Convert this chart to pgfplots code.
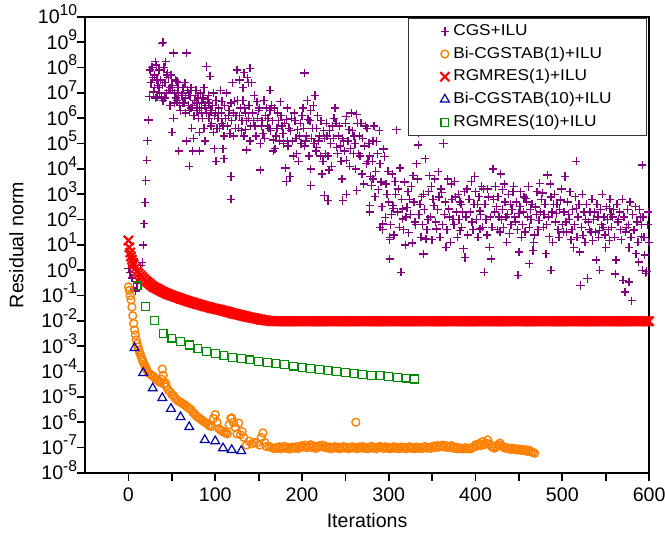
\documentclass[border=0pt]{standalone}
\usepackage{fontspec}
\setmainfont{Liberation Sans}
\usepackage{graphicx}
\usepackage{pgfplots}
\pgfplotsset{compat=1.18}

\definecolor{cgs}{RGB}{128,0,128}
\definecolor{bic}{RGB}{255,128,0}
\definecolor{rgone}{RGB}{255,0,0}
\definecolor{bicten}{RGB}{0,0,160}
\definecolor{rgten}{RGB}{0,140,0}

\newcommand\pw[1]{10\raisebox{0.85ex}{\fontsize{8}{8}\selectfont#1}}
\newcommand\legtxt[1]{\scalebox{1.1}[1]{#1}}

\begin{document}
\begin{tikzpicture}
\useasboundingbox (-43.4pt,-32.1pt) rectangle (295.9pt,241.3pt);
\begin{axis}[
  at={(0,0)}, anchor=south west,
  scale only axis, width=287.8pt, height=232.7pt,
  ymode=log, log basis y=10,
  xmin=-50, xmax=600, ymin=1e-8, ymax=1e10,
  xtick={0,100,...,600},
  extra x ticks={50,150,...,550}, extra x tick labels={},
  ytick={1e-8,1e-7,1e-6,1e-5,1e-4,1e-3,1e-2,1e-1,1,1e1,1e2,1e3,1e4,1e5,1e6,1e7,1e8,1e9,1e10},
  yticklabels={\pw{-8},\pw{-7},\pw{-6},\pw{-5},\pw{-4},\pw{-3},\pw{-2},\pw{-1},\pw{0},\pw{1},\pw{2},\pw{3},\pw{4},\pw{5},\pw{6},\pw{7},\pw{8},\pw{9},\pw{10}},
  yticklabel style={anchor=base east, xshift=3.5pt, yshift=-3.6pt},
  /pgf/number format/assume math mode=true,
  tick align=outside, tick pos=left,
  major tick length=4pt, minor tick length=2.5pt,
  every tick/.style={black, line width=0.9pt},
  axis line style={line width=0.9pt},
  tick label style={font=\fontsize{10}{12}\selectfont},
  label style={font=\fontsize{10}{12}\selectfont},
  xlabel={Iterations}, ylabel={Residual norm},
  xlabel style={at={(axis description cs:0.5,-0.105)}, anchor=center},
  ylabel style={at={(axis description cs:-0.122,0.5)}, anchor=center},
  legend cell align=left,
  legend style={at={(0.997,0.998)}, anchor=north east,
    font=\fontsize{8}{9.6}\selectfont, draw=black!80, line width=0.5pt,
    row sep=0.3pt, inner xsep=16pt, inner ysep=1.2pt},
]
% CGS+ILU
\addplot[only marks, mark=+, color=cgs, mark size=2.1pt, mark options={draw=cgs, line width=0.7pt}] coordinates {
(0,1.2)(2,0.8)(4,0.5)(6,0.2)(8,0.15)(10,0.3)(12,0.6)(14,1.5)(16,2)(17,10)(18,68)(19,470)(20,3.5e3)(21,2.2e4)(22,1.3e5)(23,8.5e5)
(39,9.1e8)(40,1e9)(52,3.7e8)(67,3.7e8)(31,1.7e8)(43,1.7e8)(25,7.9e7)(35,7.9e7)(46,4e7)(56,2.8e7)(90,1.1e8)(94,4.5e7)(125,7.9e7)
(29,1.1e7)(24,7.1e6)(33,7.1e6)(40,5e6)(48,1.6e7)(58,7.9e6)(63,1.6e7)(68,1.26e7)(78,1.26e7)(87,1.6e7)(91,5.6e6)(108,4.6e6)(122,4.6e6)
(132,5e6)(69,3.2e6)(60,2e6)(75,1.26e6)(82,2.5e6)(93,1e6)(108,6.3e5)(52,1e6)(73,4e5)(82,2.8e5)(98,2.8e5)(110,2e5)(121,2e5)(133,2e5)
(50,2.8e5)(75,1.6e5)(88,1.26e5)(67,1.26e5)(99,6.3e4)(109,6.3e4)(58,5e4)(74,5e4)(82,5e4)(101,2e4)(110,2.5e4)(70,1.26e4)(118,5e3)(118,630)
(27,1e8)(30,5e7)(32,1.26e8)(34,2e7)(36,1e7)(37,3.2e7)(42,2.5e7)(44,1e7)(45,6.3e7)(47,1.26e7)(50,2e7)(53,1e7)(55,6.3e6)(57,1.6e7)
(61,7.9e6)(64,4e6)(66,6.3e6)(71,7.9e6)(72,2.5e6)(76,5e6)(79,2e6)(80,6.3e6)(84,4e6)(85,1e6)(89,2.5e6)(95,2e6)(96,6.3e5)(100,1.6e6)
(103,1e6)(105,4e5)(112,1e6)(114,5e5)(116,2e6)(119,7.9e5)(124,1.26e6)(127,4e5)(129,2.5e6)(131,7.9e5)(128,3.2e7)(138,2.5e7)(137,4e7)
(26,2.5e7)(28,4e7)(30,1.6e7)(31,6.3e6)(33,3.2e7)(35,1.6e7)(38,6.3e6)(39,2e7)(41,1e8)(42,6.3e6)(44,5e7)(46,1.26e7)(48,3.2e6)(49,5e7)
(51,1.26e7)(53,4e6)(54,3.2e7)(56,5e6)(58,2.5e7)(59,3.2e6)(62,1e7)(63,4e6)(65,2.5e7)(66,1.6e6)
(69,1e7)(70,2e6)(72,1.6e7)(74,3.2e6)(76,1.26e6)(77,7.9e6)(79,4e6)(81,1e6)(83,1e7)(84,1.6e6)(86,6.3e6)(87,4e5)(88,3.2e6)(90,1.6e6)
(92,7.9e6)(93,4e6)(95,5e5)(97,3.2e6)(98,1e7)(99,1.26e6)
(101,5e6)(102,4e5)(104,2.5e6)(106,1.26e7)(107,1.6e6)(109,5e5)(111,3.2e6)(113,1e7)(115,1.26e6)(117,2.5e5)(118,4e6)(120,2.5e7)
(121,1.6e6)(123,4e5)(126,5e6)(128,1.26e6)(130,3.2e5)(132,1.6e7)(134,2.5e6)(136,7.9e5)(139,3.2e6)(141,5e5)(143,1.6e6)
(140,9.3e7)(203,6e7)(133,6.3e7)(142,2.5e7)(163,1.26e7)(215,7.9e6)(206,5e6)(175,4.5e6)(148,4.5e6)(238,2.5e6)(159,2.5e6)(210,2e6)
(251,1.2e6)(263,1.4e6)(191,1.6e6)(161,1e6)(135,1.6e6)(173,7.9e5)(182,8.9e5)(207,8.9e5)(239,6.3e5)(268,6.3e5)(153,5e5)(146,5e5)
(135,3.5e5)(195,3.5e5)(254,3.5e5)(229,2e5)(183,1.26e5)(167,1.4e5)(152,1e5)(140,1.26e5)(261,1e5)(217,7.1e4)(204,1.26e5)(240,7.1e4)
(282,1.26e5)(136,5.6e4)(167,5e4)(190,3.2e4)(196,2e4)(221,3.2e4)(251,2.2e4)(274,1.6e4)(152,8.9e3)(181,1.1e4)(210,1e4)(231,8.9e3)
(186,5e3)(223,6.3e3)(246,4e3)(269,6.3e3)(182,3.2e3)(210,2.2e3)(226,890)(251,1e3)(263,1.4e3)(280,2.2e3)(230,560)(247,560)(278,200)(290,50)
(138,1e6)(144,7.9e5)(150,2e6)(155,2.5e5)(158,1.26e6)(162,4e5)(165,3.2e6)(170,2e5)(172,1.6e6)(177,5e5)(179,1e5)(185,4e5)(188,1e6)
(193,1.6e5)(198,6.3e5)(201,2.5e6)(203,7.9e4)(212,4e5)(214,1e5)(218,1.26e6)(220,2e5)(225,3.2e5)(227,4e4)(233,1e5)(235,5e5)(242,2e5)
(244,7.9e4)(248,1.26e5)(256,6.3e4)(258,3.2e5)(265,4e4)(266,2e5)(272,7.9e4)(275,4e5)(278,3.2e4)
(145,7.9e6)(147,2e5)(149,1e6)(151,2.5e6)(154,7.9e5)(156,5e6)(157,1.6e5)(160,5e5)(163,2e6)(164,3.2e5)(166,7.9e5)(168,2.5e6)
(169,6.3e4)(171,4e5)(174,1.26e5)(176,1.26e6)(178,2.5e5)(180,6.3e5)(183,2.5e6)(184,7.9e4)(187,3.2e5)(189,1.26e5)(192,7.9e5)
(194,4e4)(197,2e5)(199,1e5)(200,1.26e6)
(202,4e5)(205,2e5)(208,3.2e4)(209,7.9e5)(211,1.6e5)(213,3.2e6)(216,5e4)(217,4e5)(219,1.26e5)(222,7.9e5)(224,2e4)(226,1.6e5)
(228,6.3e5)(230,3.2e4)(232,3.2e5)(234,1.26e4)(236,1.6e5)(237,1e6)(241,4e4)(243,5e5)(245,2e4)(247,1.6e5)(249,5e4)(250,6.3e5)
(253,1.26e5)(255,1.26e4)(257,1.6e6)(259,4e4)(260,2e5)(262,1e4)(264,6.3e5)(267,3.2e4)(270,1.6e5)(271,2.5e3)(273,5e5)(276,2e4)
(277,1e5)(279,5e3)
(281,2e4)(283,5e5)(284,800)(285,7.9e3)(287,4e4)(288,1.5e3)(289,3.2e5)(291,3e3)(292,320)(294,6e4)(296,120)(299,8e3)(300,500)
(293,40)(301,16)(305,280)
(309,3.5e5)(334,2.6e5)(363,1e5)(286,1.2e5)(334,8.9e4)(295,3.1e4)(332,1.6e4)(290,1.6e4)(313,1.1e4)(357,7.8e3)(347,5.4e3)(399,5e3)
(420,1e4)(282,4e3)(297,2.5e3)(328,5.4e3)(372,2.5e3)(409,1.6e3)(311,1.6e3)(340,1e3)(361,1.2e3)(393,630)(324,630)(352,350)(369,260)
(305,350)(316,260)(382,500)(405,220)(293,66)(316,105)(355,43)(382,36)(405,43)(428,32)(301,20)(343,17)(366,8.1)(386,7.1)(416,8.1)
(436,12.6)(301,2.8)(340,4.4)(388,3.2)(418,2.8)(314,0.83)(410,0.83)(278,350)
(298,1e3)(303,160)(307,3.2e3)(320,126)(326,2e3)(330,79)(336,400)(345,100)(349,2e3)(358,790)(364,160)(374,100)(377,790)(385,200)
(390,1.6e3)(396,79)(402,400)(412,100)(415,790)(424,320)(430,100)(433,2.5e3)
(302,63)(304,6.3e3)(306,25)(308,1e3)(310,200)(312,50)(315,630)(317,40)(318,3e3)(319,10)(321,300)(322,1.26e3)(323,30)(325,160)
(327,12)(329,500)(331,63)(333,4e3)(335,160)(337,20)(338,800)(339,63)(341,250)(342,2.5e4)(344,40)(346,1.26e3)(348,126)(350,16)
(351,630)(353,4e3)(354,79)(356,250)(359,20)(360,1.6e3)(362,63)(365,500)(367,40)(368,4e3)(370,126)(371,12.6)(373,630)(375,63)
(376,3.2e3)(378,200)(379,20)(380,1e3)(381,100)(383,400)(384,50)(387,1.26e3)(389,126)(391,25)(392,630)(394,200)(395,3.2e3)(397,40)
(398,400)(400,1.26e3)(401,100)(403,20)(404,800)(406,160)(407,2e3)(408,50)(411,400)(413,25)(414,1.6e3)(417,126)(419,50)(421,630)
(422,200)(423,2e3)(425,40)(426,800)(427,126)(429,6.3e3)(431,250)(432,50)(434,500)(437,160)(438,1e3)(441,63)(442,250)(444,2e3)
(445,126)(447,500)(448,40)
(516,2e4)(592,1.4e4)(483,5.8e3)(474,2.7e3)(431,1.5e3)(443,1.26e3)(458,690)(477,1.1e3)(487,790)(498,590)(516,275)(554,275)(558,126)
(469,316)(450,174)(435,126)(493,174)(504,79)(473,93)(462,50)(439,28)(524,24)(543,38)(574,50)(582,38)(591,21)(485,21)(501,32)(535,15)
(554,15)(450,5.2)(466,6)(481,4.5)(520,5.2)(539,2.5)(562,2.5)(585,4.5)(597,0.9)(462,1.8)(487,1.0)(543,1.0)(561,0.72)(570,0.4)(577,0.34)
(521,0.25)(529,0.47)(449,0.63)(572,0.14)(580,0.063)(592,1.0)(588,2.1)(596,0.76)
(440,400)(446,79)(453,20)(456,790)(463,250)(468,25)(479,160)(482,63)(490,400)(495,40)(507,160)(510,16)(513,7.9)(527,100)(531,40)
(537,200)(547,50)(550,7.9)(565,100)(568,16)(577,7.9)(590,126)(595,4)(600,12.6)
(451,320)(452,1.26e3)(454,63)(455,200)(457,32)(459,500)(460,126)(461,2e3)(464,100)(465,400)(467,12.6)(470,160)(471,1.26e3)(472,40)
(475,200)(476,630)(478,50)(480,400)(484,126)(486,2.5e3)(488,200)(489,12.6)(491,1e3)(492,79)(494,400)(496,20)(497,250)(499,1.6e3)
(500,63)(502,200)(503,5e3)(505,32)(506,500)(508,100)(509,1.26e3)(511,40)(512,250)(514,63)(515,800)(517,20)(518,126)(519,400)
(522,50)(523,1e3)(525,200)(526,12.6)(528,400)(530,79)(532,200)(533,32)(534,630)(536,100)(538,32)(540,400)(541,126)(542,20)
(544,250)(545,63)(546,1e3)(548,126)(549,25)(551,320)(552,100)(553,40)(555,630)(556,160)(557,50)(559,250)(560,20)(563,400)
(564,79)(566,200)(567,40)(569,630)(571,126)(573,32)(575,250)(576,63)(578,500)(579,20)(581,160)(583,40)(584,320)(586,79)
(587,12.6)(589,250)(591,63)(593,126)(594,20)(598,63)(599,200)
};
\addlegendentry{\legtxt{CGS+ILU}}
% Bi-CGSTAB(1)+ILU
\addplot[only marks, mark=o, color=bic, mark size=2pt, mark options={line width=0.7pt}] coordinates {
(0,0.22)(1,0.16)(2,0.1)(3,0.068)(4,0.035)(5,0.016)(6,7.9e-3)(7,4.4e-3)(8,2.8e-3)(9,1.8e-3)(10,1.26e-3)(11,9.3e-4)(12,7.1e-4)
(13,5.6e-4)(14,4.5e-4)(15,3.5e-4)(16,2.9e-4)(17,2.4e-4)(18,2e-4)(19,1.66e-4)(20,1.38e-4)(21,1.2e-4)(22,1.02e-4)(23,8.9e-5)
(25,7.9e-5)(27,7.1e-5)(29,6.3e-5)(31,5.2e-5)(33,4.7e-5)(35,4.2e-5)(36,3.8e-5)(38,5e-5)(39,1.26e-4)(40,7.1e-5)(41,3.2e-5)
(43,3.5e-5)(44,2.5e-5)(46,1.86e-5)(48,1.6e-5)(50,1.26e-5)(52,1.12e-5)(54,8.9e-6)(56,7.6e-6)(58,6.6e-6)(60,6.3e-6)(62,5.6e-6)
(64,5e-6)(66,4.5e-6)(68,4e-6)(70,3.5e-6)(72,3.2e-6)(74,2.5e-6)(76,2.2e-6)(78,1.8e-6)(80,1.6e-6)(82,1.4e-6)(84,1.26e-6)
(86,1.12e-6)(88,1e-6)(90,9.3e-7)(92,7.9e-7)(94,7.1e-7)(96,6.8e-7)(98,1.4e-6)(100,2e-6)(102,1e-6)(104,5.6e-7)(106,5e-7)
(108,4.5e-7)(110,4e-7)(112,3.8e-7)(114,3.5e-7)(116,7.9e-7)(118,1.4e-6)(119,1.5e-6)(121,1e-6)(123,6.3e-7)(125,3.5e-7)
(127,9.3e-7)(129,3.2e-7)(131,4.3e-7)(133,2.5e-7)(136,1.26e-7)(139,1.8e-7)(142,1.4e-7)(145,1.6e-7)(148,1.5e-7)(151,1.26e-7)
(153,2.5e-7)(155,3.8e-7)(157,1.6e-7)(159,1.1e-7)(162,1.12e-7)(165,1e-7)(168,9e-8)(170,1e-7)
(172,9.5e-8)(174,1.08e-7)(176,9e-8)(178,1.02e-7)(180,1.12e-7)(182,9.3e-8)(184,1e-7)(186,8.8e-8)(188,1.05e-7)(190,9.7e-8)
(192,9.5e-8)(194,1.1e-7)(196,9.2e-8)(198,1.05e-7)(200,1.2e-7)(202,1.05e-7)(204,1.25e-7)(206,1e-7)(208,1.12e-7)(210,1.3e-7)
(212,1e-7)(214,1.15e-7)(216,9.2e-8)(218,1.05e-7)(220,1.2e-7)(222,1.1e-7)(224,1.25e-7)(226,1e-7)(228,1.1e-7)(230,9.5e-8)
(232,1.05e-7)(234,9e-8)(236,1e-7)(238,1.1e-7)(240,9.5e-8)(242,1.05e-7)(244,9e-8)(246,1e-7)(248,1.1e-7)(250,9.5e-8)
(252,1.02e-7)(254,9e-8)(256,1e-7)(258,1.08e-7)(260,9.5e-8)(262,1e-7)(262,1e-6)(264,9e-8)(266,1.05e-7)(268,9.7e-8)(270,1.1e-7)
(272,9.3e-8)(274,1e-7)(276,9e-8)(278,1.05e-7)(280,1.12e-7)(282,9.5e-8)(284,1e-7)(286,9e-8)(288,1.05e-7)(290,1.12e-7)
(292,1e-7)(294,9.3e-8)(296,1.08e-7)(298,9.5e-8)(300,1.02e-7)(302,9e-8)(304,1e-7)(306,1.08e-7)(308,9.3e-8)(310,1e-7)
(312,9e-8)(314,1.05e-7)(316,9.7e-8)(318,1.02e-7)(320,9e-8)(322,1e-7)(324,1.08e-7)(326,9.3e-8)(328,1e-7)(330,9e-8)
(332,1.05e-7)(334,9.5e-8)(336,1e-7)(338,9e-8)(340,1.05e-7)(342,1.1e-7)(344,9.5e-8)(346,1.02e-7)(348,9.2e-8)(350,1.08e-7)
(352,1.15e-7)(354,1e-7)(356,1.2e-7)(358,1.05e-7)(360,1.15e-7)(362,1.25e-7)(364,1.05e-7)(366,1.2e-7)(368,1e-7)(370,1.12e-7)
(372,1.2e-7)(374,9.5e-8)(376,1.05e-7)(378,9e-8)(380,1e-7)(382,9e-8)(384,9.5e-8)(386,8.8e-8)(388,1e-7)(390,9e-8)
(392,9.5e-8)(394,8.8e-8)(396,1e-7)(398,1.05e-7)(400,1.3e-7)(402,1.15e-7)(404,1.45e-7)(406,1.2e-7)(408,1.7e-7)(410,1.3e-7)
(412,1.5e-7)(414,2e-7)(416,1.4e-7)(418,1.15e-7)(420,1e-7)(422,9.5e-8)(424,1.1e-7)(426,1.3e-7)(428,1.5e-7)(430,1.2e-7)
(432,1.05e-7)(434,9.5e-8)(436,1e-7)(438,9e-8)(440,8.5e-8)(442,9.5e-8)(444,8.5e-8)(446,9e-8)(448,8e-8)(450,8.8e-8)
(452,7.8e-8)(454,8.5e-8)(456,7.5e-8)(458,8.2e-8)(460,7e-8)(462,7.8e-8)(464,6.8e-8)(466,6.5e-8)(468,6e-8)
};
\addlegendentry{\legtxt{Bi-CGSTAB(1)+ILU}}
% RGMRES(1)+ILU
\addplot[only marks, mark=x, color=rgone, mark size=3.3pt, mark options={line width=1.1pt}] coordinates {
(0,15)(1,8)(2,5)(3,3.5)(4,2.6)(5,2)(6,1.7)(8,1.2)(10,0.9)(12,0.74)(14,0.62)(16,0.53)(18,0.45)(20,0.38)(22,0.34)(24,0.3)
(26,0.26)(28,0.23)(30,0.21)(32,0.195)(34,0.18)(36,0.165)(38,0.15)(40,0.14)(42,0.13)(44,0.12)(46,0.113)(48,0.106)(50,0.1)
(52,0.095)(54,0.09)(56,0.085)(58,0.08)(60,0.075)(62,0.072)(64,0.068)(66,0.064)(68,0.061)(70,0.058)(72,0.055)(74,0.053)
(76,0.05)(78,0.048)(80,0.046)(82,0.044)(84,0.042)(86,0.04)(88,0.038)(90,0.037)(92,0.035)(94,0.034)(96,0.032)(98,0.031)
(100,0.03)(102,0.029)(104,0.028)(106,0.027)(108,0.026)(110,0.025)(112,0.024)(114,0.023)(116,0.022)(118,0.021)(120,0.02)
(122,0.0193)(124,0.0186)(126,0.018)(128,0.0173)(130,0.0166)(132,0.016)(134,0.0154)(136,0.0148)(138,0.0143)(140,0.0138)
(142,0.0134)(144,0.013)(146,0.0126)(148,0.0122)(150,0.0118)(152,0.0114)(154,0.0111)(156,0.0108)(158,0.0105)(160,0.0103)
(162,0.0101)(164,0.0099)(166,0.0098)(168,0.0097)
(170,0.0097)(172,0.0097)(174,0.0097)(176,0.0097)(178,0.0097)(180,0.0097)(182,0.0097)(184,0.0097)(186,0.0097)(188,0.0097)
(190,0.0097)(192,0.0097)(194,0.0097)(196,0.0097)(198,0.0097)(200,0.0097)(202,0.0097)(204,0.0097)(206,0.0097)(208,0.0097)
(210,0.0097)(212,0.0097)(214,0.0097)(216,0.0097)(218,0.0097)(220,0.0097)(222,0.0097)(224,0.0097)(226,0.0097)(228,0.0097)
(230,0.0097)(232,0.0097)(234,0.0097)(236,0.0097)(238,0.0097)(240,0.0097)(242,0.0097)(244,0.0097)(246,0.0097)(248,0.0097)
(250,0.0097)(252,0.0097)(254,0.0097)(256,0.0097)(258,0.0097)(260,0.0097)(262,0.0097)(264,0.0097)(266,0.0097)(268,0.0097)
(270,0.0097)(272,0.0097)(274,0.0097)(276,0.0097)(278,0.0097)(280,0.0097)(282,0.0097)(284,0.0097)(286,0.0097)(288,0.0097)
(290,0.0097)(292,0.0097)(294,0.0097)(296,0.0097)(298,0.0097)(300,0.0097)(302,0.0097)(304,0.0097)(306,0.0097)(308,0.0097)
(310,0.0097)(312,0.0097)(314,0.0097)(316,0.0097)(318,0.0097)(320,0.0097)(322,0.0097)(324,0.0097)(326,0.0097)(328,0.0097)
(330,0.0097)(332,0.0097)(334,0.0097)(336,0.0097)(338,0.0097)(340,0.0097)(342,0.0097)(344,0.0097)(346,0.0097)(348,0.0097)
(350,0.0097)(352,0.0097)(354,0.0097)(356,0.0097)(358,0.0097)(360,0.0097)(362,0.0097)(364,0.0097)(366,0.0097)(368,0.0097)
(370,0.0097)(372,0.0097)(374,0.0097)(376,0.0097)(378,0.0097)(380,0.0097)(382,0.0097)(384,0.0097)(386,0.0097)(388,0.0097)
(390,0.0097)(392,0.0097)(394,0.0097)(396,0.0097)(398,0.0097)(400,0.0097)(402,0.0097)(404,0.0097)(406,0.0097)(408,0.0097)
(410,0.0097)(412,0.0097)(414,0.0097)(416,0.0097)(418,0.0097)(420,0.0097)(422,0.0097)(424,0.0097)(426,0.0097)(428,0.0097)
(430,0.0097)(432,0.0097)(434,0.0097)(436,0.0097)(438,0.0097)(440,0.0097)(442,0.0097)(444,0.0097)(446,0.0097)(448,0.0097)
(450,0.0097)(452,0.0097)(454,0.0097)(456,0.0097)(458,0.0097)(460,0.0097)(462,0.0097)(464,0.0097)(466,0.0097)(468,0.0097)
(470,0.0097)(472,0.0097)(474,0.0097)(476,0.0097)(478,0.0097)(480,0.0097)(482,0.0097)(484,0.0097)(486,0.0097)(488,0.0097)
(490,0.0097)(492,0.0097)(494,0.0097)(496,0.0097)(498,0.0097)(500,0.0097)(502,0.0097)(504,0.0097)(506,0.0097)(508,0.0097)
(510,0.0097)(512,0.0097)(514,0.0097)(516,0.0097)(518,0.0097)(520,0.0097)(522,0.0097)(524,0.0097)(526,0.0097)(528,0.0097)
(530,0.0097)(532,0.0097)(534,0.0097)(536,0.0097)(538,0.0097)(540,0.0097)(542,0.0097)(544,0.0097)(546,0.0097)(548,0.0097)
(550,0.0097)(552,0.0097)(554,0.0097)(556,0.0097)(558,0.0097)(560,0.0097)(562,0.0097)(564,0.0097)(566,0.0097)(568,0.0097)
(570,0.0097)(572,0.0097)(574,0.0097)(576,0.0097)(578,0.0097)(580,0.0097)(582,0.0097)(584,0.0097)(586,0.0097)(588,0.0097)
(590,0.0097)(592,0.0097)(594,0.0097)(596,0.0097)(598,0.0097)(600,0.0097)
};
\addlegendentry{\legtxt{RGMRES(1)+ILU}}
% Bi-CGSTAB(10)+ILU
\addplot[only marks, mark=triangle, color=bicten, mark size=2.6pt, mark options={line width=0.6pt}] coordinates {
(7,8.5e-4)(17,8.9e-5)(28,2.2e-5)(39,9.1e-6)(49,3.4e-6)(60,1.6e-6)(70,6.5e-7)(88,2e-7)(100,1.8e-7)(109,9.5e-8)(119,8.1e-8)(130,7.4e-8)
};
\addlegendentry{\legtxt{Bi-CGSTAB(10)+ILU}}
% RGMRES(10)+ILU
\addplot[only marks, mark=square, color=rgten, mark size=2pt, mark options={line width=0.6pt}] coordinates {
(10,0.24)(20,0.036)(30,0.0102)(40,3.2e-3)(50,2.1e-3)(60,1.5e-3)(70,1.12e-3)(80,8.3e-4)(90,6.3e-4)(100,5.2e-4)(110,4.3e-4)
(120,3.7e-4)(130,3.3e-4)(140,2.9e-4)(150,2.5e-4)(160,2.3e-4)(170,2.1e-4)(180,1.86e-4)(190,1.66e-4)(200,1.48e-4)(210,1.35e-4)
(220,1.23e-4)(230,1.12e-4)(240,1.02e-4)(250,9.3e-5)(260,8.5e-5)(270,7.9e-5)(280,7.2e-5)(290,6.8e-5)(300,6.3e-5)(310,5.9e-5)
(320,5.5e-5)(330,5.1e-5)
};
\addlegendentry{\legtxt{RGMRES(10)+ILU}}
\end{axis}
\end{tikzpicture}
\end{document}
